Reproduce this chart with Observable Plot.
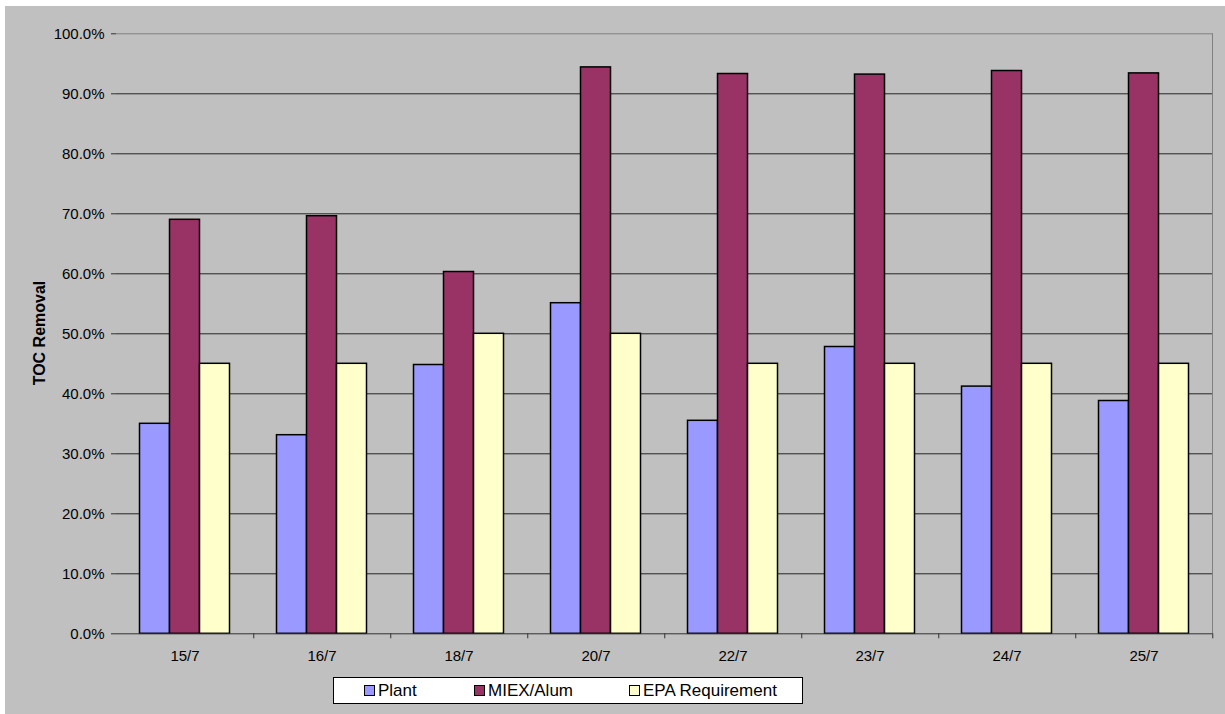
<!DOCTYPE html>
<html>
<head>
<meta charset="utf-8">
<script src="https://cdn.jsdelivr.net/npm/d3@7"></script>
<script src="https://cdn.jsdelivr.net/npm/@observablehq/plot@0.6"></script>
<style>
  html, body { margin: 0; padding: 0; background: #fff; }
  body { width: 1225px; height: 714px; position: relative; overflow: hidden; font-family: "Liberation Sans", Arial, sans-serif; }
  #panel { position: absolute; left: 5px; top: 6px; width: 1220px; height: 708px; background: #c0c0c0; }
  #ylabel { position: absolute; left: 35px; top: 327px; transform: translate(-50%, -50%) rotate(-90deg); font-weight: bold; font-size: 16px; white-space: nowrap; color: #000; }
  #legend { position: absolute; left: 328px; top: 671px; width: 468px; height: 25px; background: #fff; border: 1px solid #000; font-size: 17px; color: #000; }
  .item { position: absolute; top: 2px; line-height: 21px; white-space: nowrap; }
  .sw { display: inline-block; width: 9px; height: 9px; border: 1px solid #000; margin-right: 3px; vertical-align: 0px; }
</style>
</head>
<body>
<div id="panel">
  <div id="chart"></div>
  <div id="ylabel">TOC Removal</div>
  <div id="legend"></div>
</div>
<script>
// TOC removal by sampling date, three series per date
const categories = ["15/7", "16/7", "18/7", "20/7", "22/7", "23/7", "24/7", "25/7"];
const series = ["Plant", "MIEX/Alum", "EPA Requirement"];
const plant = [0.350, 0.331, 0.448, 0.551, 0.355, 0.478, 0.412, 0.388];
const miexAlum = [0.690, 0.696, 0.603, 0.944, 0.933, 0.932, 0.938, 0.934];
const epaRequirement = [0.45, 0.45, 0.50, 0.50, 0.45, 0.45, 0.45, 0.45];
const colors = ["#9999FF", "#993366", "#FFFFCC"];
const yTicks = [0, 0.1, 0.2, 0.3, 0.4, 0.5, 0.6, 0.7, 0.8, 0.9, 1.0];

const columns = [plant, miexAlum, epaRequirement];
const rows = categories.flatMap((date, i) =>
  series.map((name, j) => ({date, series: name, value: columns[j][i]}))
);

const width = 1220, height = 670;
const marginLeft = 108.5, marginRight = 11.5, marginTop = 27.3, marginBottom = 42.7;
// half of one date band, used to move tick marks onto the band boundaries
const halfBand = (width - marginLeft - marginRight) / categories.length / 2;

const chart = Plot.plot({
  width, height, marginLeft, marginRight, marginTop, marginBottom,
  style: {background: "transparent", fontFamily: "'Liberation Sans', Arial, sans-serif", fontSize: "15px", color: "#000", overflow: "visible"},
  fx: {domain: categories, padding: 0, label: null},
  x: {domain: series, paddingInner: 0, paddingOuter: 0.742, axis: null},
  y: {domain: [0, 1], label: null},
  color: {domain: series, range: colors},
  marks: [
    Plot.gridY(yTicks.slice(1, -1), {stroke: "#262626", strokeOpacity: 1}),
    Plot.frame({facet: "super", anchor: "top", stroke: "#808080"}),
    Plot.frame({facet: "super", anchor: "right", stroke: "#808080"}),
    Plot.barY(rows, {fx: "date", x: "series", y: "value", fill: "series", stroke: "#000", strokeWidth: 1.5}),
    Plot.ruleY([0], {stroke: "#333"}),
    Plot.axisY({ticks: yTicks, tickFormat: ".1%", tickSize: 5, tickPadding: 7, line: true, stroke: "#333", label: null}),
    Plot.axisFx({anchor: "bottom", tickSize: 5, dx: halfBand, tickFormat: () => "", stroke: "#333", label: null}),
    Plot.axisFx({anchor: "bottom", tickSize: 0, tickPadding: 17, label: null})
  ]
});
document.getElementById("chart").append(chart);

// legend below the chart
const legend = document.getElementById("legend");
const offsets = [30, 140, 295];
series.forEach((name, i) => {
  const item = document.createElement("div");
  item.className = "item";
  item.style.left = offsets[i] + "px";
  item.innerHTML = `<span class="sw" style="background:${colors[i]}"></span>${name}`;
  legend.append(item);
});
</script>
</body>
</html>
